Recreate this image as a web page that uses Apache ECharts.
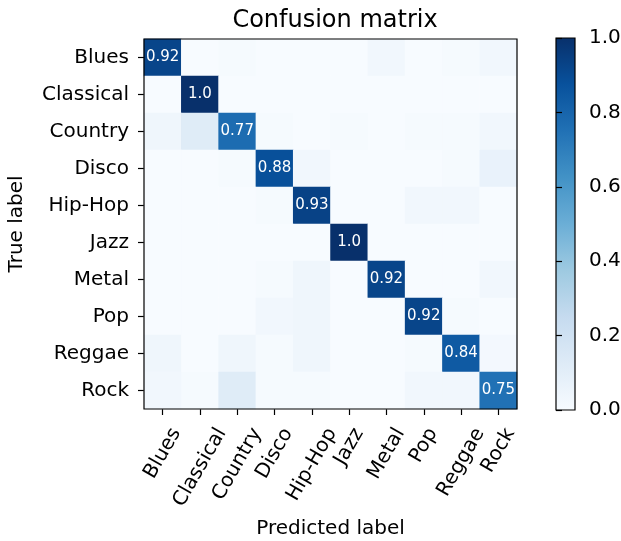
<!DOCTYPE html>
<html><head><meta charset="utf-8">
<script src="https://cdn.jsdelivr.net/npm/echarts@6/dist/echarts.min.js"></script>
<style>html,body{margin:0;padding:0;background:#fff}#c{width:621px;height:541px}</style>
</head><body><div id="c"></div>
<script>
const categories = ['Blues','Classical','Country','Disco','Hip-Hop','Jazz','Metal','Pop','Reggae','Rock'];
const rowBlues     = [0.92,0,0.01,0,0,0,0.03,0,0.01,0.03];
const rowClassical = [0,1.0,0,0,0,0,0,0,0,0];
const rowCountry   = [0.04,0.12,0.77,0.01,0,0.01,0,0.01,0.01,0.03];
const rowDisco     = [0,0,0.01,0.88,0.03,0,0,0,0.01,0.07];
const rowHipHop    = [0,0,0,0.01,0.93,0,0,0.03,0.03,0];
const rowJazz      = [0,0,0,0,0,1.0,0,0,0,0];
const rowMetal     = [0,0,0,0.01,0.04,0,0.92,0,0,0.03];
const rowPop       = [0,0,0,0.03,0.04,0,0,0.92,0.01,0];
const rowReggae    = [0.04,0,0.04,0.01,0.04,0,0,0.01,0.84,0.02];
const rowRock      = [0.03,0.01,0.12,0.01,0.01,0,0,0.03,0.03,0.75];
const rows = [rowBlues,rowClassical,rowCountry,rowDisco,rowHipHop,rowJazz,rowMetal,rowPop,rowReggae,rowRock];
const diagLabels = ['0.92','1.0','0.77','0.88','0.93','1.0','0.92','0.92','0.84','0.75'];

const blues = ['#f7fbff','#deebf7','#c6dbef','#9ecae1','#6baed6','#4292c6','#2171b5','#08519c','#08306b'];
const data = [];
rows.forEach((r,i)=>r.forEach((v,j)=>data.push([j,i,v])));

const FONT = 'DejaVu Sans';
const LABEL_FS = 20;
const GRID_TOP = 39, GRID_H = 370;
const X_MARGIN = 12;
// center-anchored rotated x labels (like matplotlib rotation=60, ha=center)
const ctx = document.createElement('canvas').getContext('2d');
ctx.font = LABEL_FS + 'px "' + FONT + '"';
const rich = {};
categories.forEach((c,i)=>{
  const w = ctx.measureText(c).width;
  const H = w*Math.sin(Math.PI/3) + 23*Math.cos(Math.PI/3);
  const D = (GRID_TOP+GRID_H+15) + H/2 - (GRID_TOP+GRID_H+X_MARGIN);
  rich['l'+i] = {fontSize:LABEL_FS,fontFamily:FONT,color:'#000',padding:[D,1.732*D,0,0]};
});

const chart = echarts.init(document.getElementById('c'));
chart.setOption({
  animation:false,
  textStyle:{fontFamily:FONT},
  title:{text:'Confusion matrix',left:330,top:4,textAlign:'center',
    textStyle:{fontFamily:FONT,fontSize:24,fontWeight:'normal',color:'#000'}},
  grid:[
    {left:144,top:GRID_TOP,width:373,height:GRID_H,show:true,borderColor:'#000',borderWidth:1.2,backgroundColor:'transparent',z:5,outerBoundsMode:'none',containLabel:false},
    {left:556,top:38,width:19,height:372,show:true,borderColor:'#000',borderWidth:1.2,outerBoundsMode:'none',containLabel:false,
     backgroundColor:new echarts.graphic.LinearGradient(0,0,0,1, blues.slice().reverse().map((c,i)=>({offset:i/8,color:c})))}
  ],
  xAxis:[
    {type:'category',data:categories,gridIndex:0,
     axisLine:{show:false},axisTick:{show:true,alignWithLabel:true,length:6,lineStyle:{color:'#000',width:1.2}},
     axisLabel:{rotate:60,fontSize:LABEL_FS,color:'#000',fontFamily:FONT,margin:X_MARGIN,interval:0,
       align:'center',verticalAlign:'middle',
       formatter:(v,i)=>'{l'+categories.indexOf(v)+'|'+v+'}',rich:rich},
     splitLine:{show:false},
     name:'Predicted label',nameLocation:'middle',nameGap:110,
     nameTextStyle:{fontSize:20,color:'#000',fontFamily:FONT}},
    {type:'value',gridIndex:1,show:false,min:0,max:1}
  ],
  yAxis:[
    {type:'category',data:categories,inverse:true,gridIndex:0,
     axisLine:{show:false},axisTick:{show:true,alignWithLabel:true,length:6,lineStyle:{color:'#000',width:1.2}},
     axisLabel:{fontSize:LABEL_FS,color:'#000',fontFamily:FONT,margin:15,interval:0},
     name:'True label',nameLocation:'middle',nameGap:117,nameRotate:90,
     nameTextStyle:{fontSize:20,color:'#000',fontFamily:FONT}},
    {type:'value',gridIndex:1,min:0,max:1,interval:0.2,position:'right',
     axisLine:{show:false},splitLine:{show:false},
     axisTick:{show:true,length:6,lineStyle:{color:'#000',width:1.2}},
     axisLabel:{fontSize:LABEL_FS,color:'#000',fontFamily:FONT,margin:14,formatter:v=>v.toFixed(1)}}
  ],
  visualMap:{show:false,min:0,max:1,seriesIndex:0,inRange:{color:blues}},
  series:[{
    type:'heatmap',xAxisIndex:0,yAxisIndex:0,data:data,
    label:{show:true,color:'#fff',fontSize:15,fontFamily:FONT,
      formatter:p=>p.value[0]===p.value[1]?diagLabels[p.value[0]]:''},
    itemStyle:{borderWidth:0}
  }]
});
</script></body></html>
